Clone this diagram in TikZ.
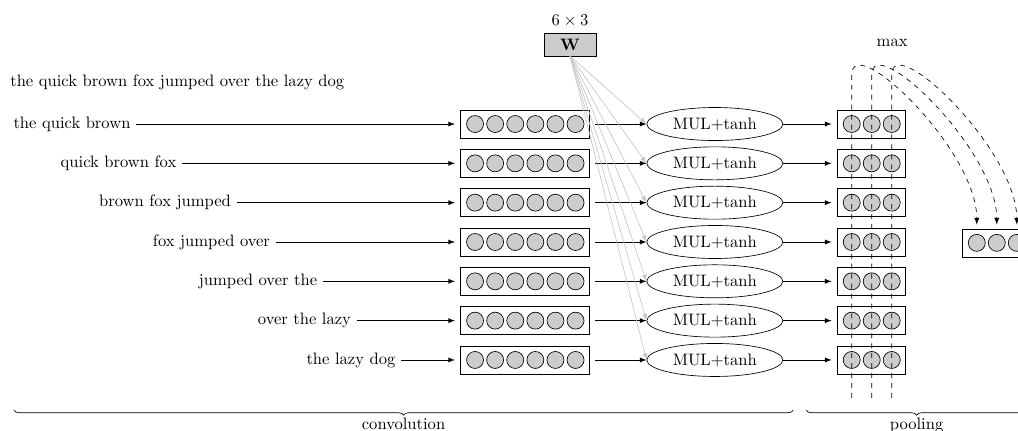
\documentclass[tikz,border=0pt]{standalone}
\usetikzlibrary{positioning,decorations.pathreplacing,arrows,shapes.geometric}

\begin{document}
\begin{tikzpicture}[>=latex,
  vecbox/.style={draw, minimum height=0.594cm, inner sep=0, outer sep=3.5pt},
  unit/.style={circle, draw, fill=gray!40, minimum size=0.36cm, inner sep=0},
  mulnode/.style={ellipse, draw, minimum width=2.885cm, minimum height=0.70cm, inner sep=0},
  weight/.style={draw, fill=gray!40, minimum width=1.10cm, minimum height=0.49cm, inner sep=0, outer sep=0}]

\useasboundingbox (0,0) rectangle (21.59,-9.14);

% Weights 
\path
(12.09,-0.944) node[weight] (W) {$\mathbf{W}$}
(18.92,-0.91)  node (maxlabel) {max}
(0.095,-1.745) node[anchor=west] (sentence) {the quick brown fox jumped over the lazy dog};
\node[above=0pt of W] (Wdim) {$6\times3$};

% Windows, convolution, tanh 
\foreach \txt [count=\i] in {the quick brown, quick brown fox, brown fox jumped, fox jumped over, jumped over the, over the lazy, the lazy dog} {
  \pgfmathsetmacro{\yy}{-2.63-0.834*(\i-1)}
  \pgfmathsetmacro{\xx}{1.527+0.986*(\i-1)}
  \path
  (\xx,\yy)     node (word\i) {\txt}
  (11.132,\yy)  node[vecbox, minimum width=2.72cm] (conv\i) {}
  (15.16,\yy)   node[mulnode] (mul\i) {MUL+tanh}
  (18.485,\yy)  node[vecbox, minimum width=1.45cm] (pool\i) {};
  \foreach \j in {1,...,6}
    \node[unit] (conv\i-\j) at (10.075+0.4263*\j-0.4263,\yy) {};
  \foreach \j in {1,2,3}
    \node[unit] (pool\i-\j) at (18.064+0.424*\j-0.424,\yy) {};

  \draw[->] (word\i) -- (conv\i);
  \draw[->] (conv\i) -- (mul\i);
  \draw[->] (mul\i) -- (pool\i);
  \draw[->, gray!45] (W.south) -- (mul\i.west);
}

% Pooling 
\path (21.137,-5.15) node[vecbox, minimum width=1.45cm] (out) {};
\foreach \j in {1,2,3} {
  \node[unit] (out-\j) at (20.716+0.424*\j-0.424,-5.15) {};
  \coordinate (bot\j) at (18.064+0.424*\j-0.424,-8.44);
  \coordinate (top\j) at (18.064+0.424*\j-0.424,-1.59);
  \draw[dashed, ->, shorten >=0.2cm] (bot\j) -- (top\j)
    .. controls +(0,0.95) and +(0,1.8) .. (out-\j.north);
}

% Braces 
\coordinate (convL) at (0.297,-8.70);
\coordinate (convR) at (16.82,-8.70);
\coordinate (poolL) at (17.10,-8.70);
\coordinate (poolR) at (21.78,-8.70);
\draw[decorate, decoration={brace, mirror, amplitude=3pt}] (convL) -- (convR)
  node[midway, below=1pt] (convlabel) {convolution};
\draw[decorate, decoration={brace, mirror, amplitude=3pt}] (poolL) -- (poolR)
  node[midway, below=1pt] (poollabel) {pooling};

\end{tikzpicture}
\end{document}
